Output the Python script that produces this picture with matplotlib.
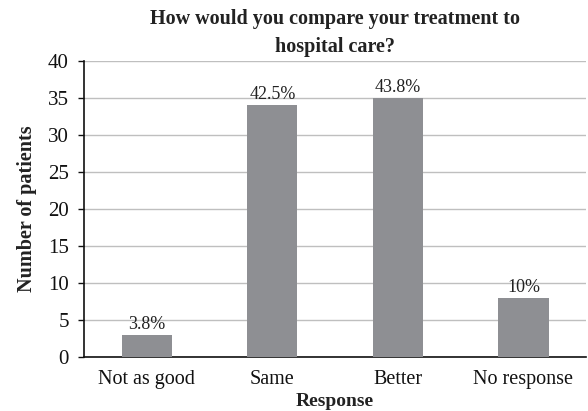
import matplotlib
matplotlib.use("Agg")
from matplotlib import pyplot as plt

responses = ["Not as good", "Same", "Better", "No response"]
patients = [3, 34, 35, 8]
percent_labels = ["3.8%", "42.5%", "43.8%", "10%"]

BAR_COLOR = "#8e8f93"
GRID_COLOR = "#bfbfbf"

plt.rcParams['font.family'] = ['Liberation Serif', 'DejaVu Serif']

fig = plt.figure(figsize=(5.88, 4.11), dpi=100)
ax = fig.add_axes([0.143, 0.131, 0.854, 0.721])

x = range(len(responses))
bars = ax.bar(x, patients, width=0.4, color=BAR_COLOR, zorder=3)

# percentage share above each bar
for rect, lab in zip(bars, percent_labels):
    ax.annotate(lab, (rect.get_x() + rect.get_width() / 2, rect.get_height()),
                xytext=(0, 1.5), textcoords="offset points",
                ha="center", va="bottom", fontsize=13, color="#222222", zorder=4)

ax.set_xlim(-0.5, len(responses) - 0.5)
ax.set_ylim(0, 40)
ax.set_yticks(range(0, 41, 5))
ax.set_xticks(list(x))
ax.set_xticklabels(responses)
ax.yaxis.grid(True, color=GRID_COLOR, linewidth=1.0, zorder=0)
ax.set_axisbelow(True)

for side in ["top", "right"]:
    ax.spines[side].set_visible(False)
ax.spines["left"].set_color("#111111")
ax.spines["bottom"].set_color("#111111")
ax.spines["left"].set_linewidth(1.2)
ax.spines["bottom"].set_linewidth(1.2)

ax.tick_params(axis="y", length=4, width=1.0, labelsize=15, pad=7, colors="#111111")
ax.tick_params(axis="x", length=0, labelsize=14.5, pad=9, colors="#111111")

ax.set_title("How would you compare your treatment to\nhospital care?",
             fontsize=14.5, fontweight="bold", pad=6, color="#222222", linespacing=1.55)
ax.set_xlabel("Response", fontsize=14, fontweight="bold", labelpad=3, color="#222222")
ax.set_ylabel("Number of patients", fontsize=14.5, fontweight="bold", labelpad=8, color="#222222")

fig.savefig("out.png", dpi=100)
